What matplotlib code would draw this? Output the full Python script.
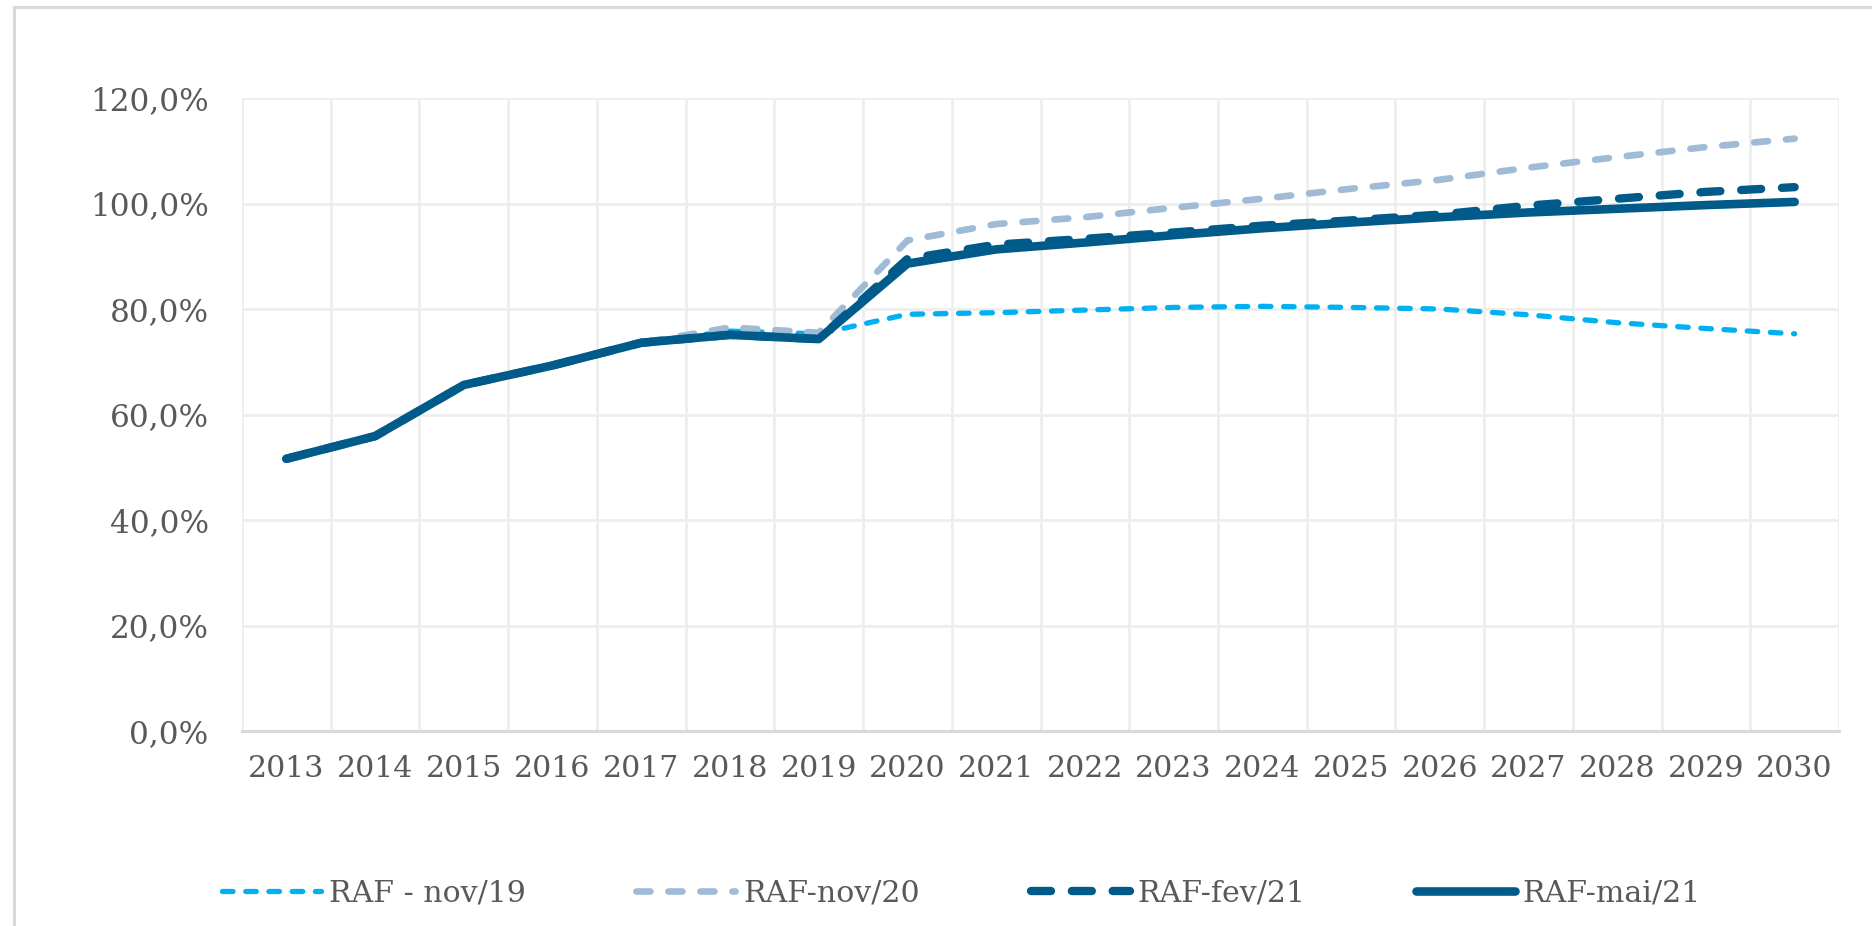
import matplotlib
matplotlib.use("Agg")
import matplotlib.pyplot as plt
from matplotlib.lines import Line2D
from matplotlib.ticker import FuncFormatter, MultipleLocator
import numpy as np

# =========================================================
# DADOS
# =========================================================

anos = [str(a) for a in range(2013, 2031)]

raf_nov19 = [51.6, 55.9, 65.6, 69.3, 73.6, 75.8, 75.3, 79.0, 79.3, 79.8,
             80.3, 80.5, 80.3, 80.0, 78.9, 77.4, 76.3, 75.3]
raf_nov20 = [51.6, 55.9, 65.6, 69.3, 73.6, 76.5, 75.5, 93.0, 96.1, 97.4,
             99.2, 100.9, 102.8, 104.5, 106.8, 108.8, 110.7, 112.3]
raf_fev21 = [51.6, 55.9, 65.6, 69.3, 73.6, 75.1, 74.3, 89.5, 92.2, 93.3,
             94.5, 95.8, 96.8, 97.9, 99.6, 100.9, 102.2, 103.1]
raf_mai21 = [51.6, 55.9, 65.6, 69.3, 73.6, 75.1, 74.3, 88.6, 91.3, 92.6,
             94.0, 95.3, 96.4, 97.4, 98.3, 99.0, 99.7, 100.3]

series = [
    ("RAF - nov/19", raf_nov19),
    ("RAF-nov/20", raf_nov20),
    ("RAF-fev/21", raf_fev21),
    ("RAF-mai/21", raf_mai21),
]

# =========================================================
# ESTILO
# =========================================================

W, H = 1872, 926
DPI = 100
FS = 21.6
TXT = "#595959"
GRID = "#eeeeee"

plt.rcParams["font.family"] = ["DejaVu Serif"]

styles = {
    "RAF - nov/19": dict(color="#00B0F0", lw=3.8, ls=(0, (2.0, 2.4))),
    "RAF-nov/20":   dict(color="#9FBBD5", lw=4.8, ls=(0, (2.1, 2.7))),
    "RAF-fev/21":   dict(color="#005B8A", lw=6.0, ls=(0, (2.4, 2.5))),
    "RAF-mai/21":   dict(color="#005B8A", lw=6.2, ls="-"),
}

fig = plt.figure(figsize=(W / DPI, H / DPI), dpi=DPI)
ax = fig.add_axes([242 / W, 1 - 731 / H, (1839 - 242) / W, (731 - 98) / H])

x = np.arange(len(anos))

for nome, vals in series:
    st = styles[nome]
    ax.plot(
        x,
        vals,
        color=st["color"],
        lw=st["lw"],
        ls=st["ls"],
        label=nome,
        dash_capstyle="round",
        solid_capstyle="round",
        solid_joinstyle="round",
        dash_joinstyle="round",
    )

ax.set_xlim(-0.5, len(anos) - 0.5)
ax.set_ylim(0, 120)

ax.set_xticks(x)
ax.set_xticklabels(anos)
ax.set_xticks(np.arange(-0.5, len(anos), 1.0), minor=True)
ax.yaxis.set_major_locator(MultipleLocator(20))
ax.yaxis.set_major_formatter(
    FuncFormatter(lambda v, p: f"{v:.1f}%".replace(".", ","))
)

ax.grid(True, which="minor", axis="x", color=GRID, lw=2.0)
ax.grid(True, which="major", axis="y", color=GRID, lw=2.0)
ax.grid(False, which="major", axis="x")
ax.set_axisbelow(True)

for s in ["top", "right", "left"]:
    ax.spines[s].set_visible(False)
ax.spines["bottom"].set_color("#d9d9d9")
ax.spines["bottom"].set_linewidth(2.2)
ax.spines["bottom"].set_zorder(1)

ax.tick_params(axis="x", which="both", length=0, pad=17, labelsize=FS,
               labelcolor=TXT)
ax.tick_params(axis="y", which="both", length=0, pad=24, labelsize=22.4,
               labelcolor=TXT)

# borda externa do gráfico (cortada à direita e embaixo)
fig.add_artist(Line2D([14 / W, 14 / W], [0, 1 - 7 / H],
                      transform=fig.transFigure, color="#d9d9d9", lw=2.2))
fig.add_artist(Line2D([14 / W, 1], [1 - 7 / H, 1 - 7 / H],
                      transform=fig.transFigure, color="#d9d9d9", lw=2.2))

fig.legend(
    loc="center",
    bbox_to_anchor=(0.5136, 1 - 893 / H),
    ncol=4,
    frameon=False,
    fontsize=FS,
    labelcolor=TXT,
    handlelength=3.3,
    handletextpad=0.25,
    columnspacing=3.7,
)

fig.savefig("out.png", dpi=DPI)
